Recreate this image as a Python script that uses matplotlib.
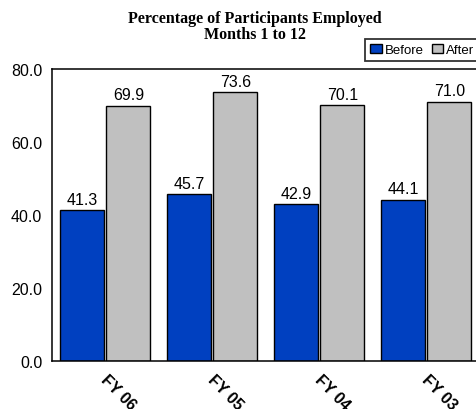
import numpy as np
import matplotlib.pyplot as plt

# -------------------------------------------------
# Data
# -------------------------------------------------

years = ["FY 06", "FY 05", "FY 04", "FY 03"]
before = [41.3, 45.7, 42.9, 44.1]
after = [69.9, 73.6, 70.1, 71.0]

BLUE = "#0040C0"
GRAY = "#C0C0C0"

# -------------------------------------------------
# Figure
# -------------------------------------------------

fig = plt.figure(figsize=(4.76, 4.10), dpi=100)
ax = fig.add_axes([0.109, 0.117, 0.899, 0.712])

x = np.arange(len(years))
w = 0.41

b1 = ax.bar(x - 0.215, before, w, color=BLUE, edgecolor="black", linewidth=1.0, label="Before")
b2 = ax.bar(x + 0.215, after, w, color=GRAY, edgecolor="black", linewidth=1.0, label="After")

for bars, vals in [(b1, before), (b2, after)]:
    for r, v in zip(bars, vals):
        ax.text(r.get_x() + r.get_width() / 2, v + 1.0, "{:.1f}".format(v),
                ha="center", va="bottom", fontsize=11.5, family="Liberation Sans")

ax.set_xlim(-0.5, 3.5)
ax.set_ylim(0, 80)
ax.set_yticks([0, 20, 40, 60, 80])
ax.set_yticklabels(["{:.1f}".format(t) for t in [0, 20, 40, 60, 80]],
                   fontsize=11.5, family="Liberation Sans")
ax.tick_params(axis="y", length=0, pad=7)

ax.set_xticks(x)
ax.set_xticklabels([])
ax.tick_params(axis="x", length=0)
for xi, lab in zip(x, years):
    ax.text(xi + 0.03, -2.8, lab, rotation=-45, rotation_mode="anchor",
            ha="left", va="top", fontsize=11.5, fontweight="bold",
            family="Liberation Sans")

for s in ax.spines.values():
    s.set_linewidth(1.1)

# -------------------------------------------------
# Title and legend
# -------------------------------------------------

fig.text(0.536, 0.972, "Percentage of Participants Employed\nMonths 1 to 12",
         ha="center", va="top", fontsize=11.5, fontweight="bold",
         family="Liberation Serif", linespacing=1.0)

leg = fig.legend(handles=[b1, b2], loc="upper left", bbox_to_anchor=(0.767, 0.903),
                 ncol=2, frameon=True, fancybox=False,
                 handlelength=0.85, handleheight=0.6, handletextpad=0.25,
                 columnspacing=0.6, borderpad=0.4, borderaxespad=0,
                 prop={"family": "Liberation Sans", "size": 9.5})
leg.get_frame().set_edgecolor("black")
leg.get_frame().set_linewidth(1.3)

fig.savefig("out.png")
